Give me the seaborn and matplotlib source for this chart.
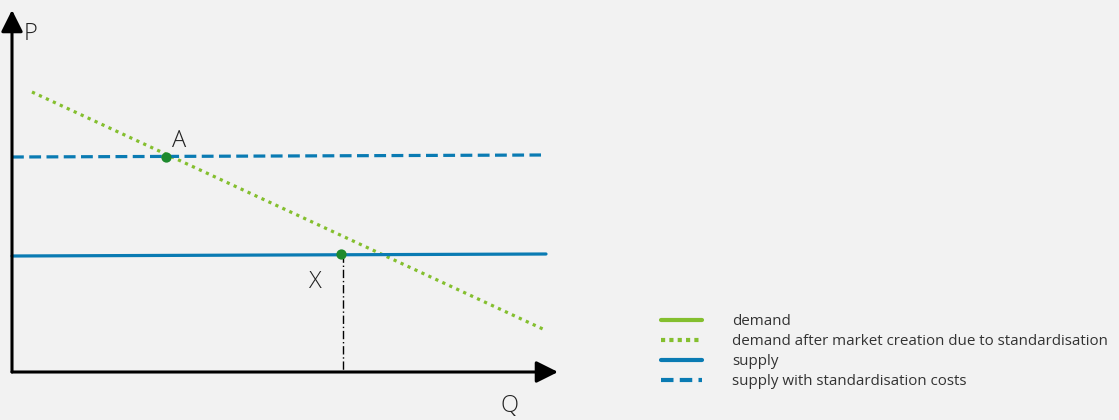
import numpy as np
import pandas as pd
import seaborn as sns
import matplotlib.pyplot as plt
from matplotlib.lines import Line2D

# curve end points (Q, P) in chart units
demand_std_q = [20, 533]
demand_std_p = [280, 42]
supply_std_q = [0, 529]
supply_std_p = [215, 217]
supply_q = [0, 534]
supply_p = [116, 118]
point_a = (154, 215)
point_x = (329, 118)

legend_labels = ["demand",
                 "demand after market creation due to standardisation",
                 "supply",
                 "supply with standardisation costs"]

green = "#84bf2e"
blue = "#0a7bb3"
dot_green = "#1e8a2e"
bg = "#f2f2f2"

sns.set_theme(style="white")
plt.rcParams['font.family'] = ['Open Sans', 'DejaVu Sans']

fig = plt.figure(figsize=(11.19, 4.2), dpi=100, facecolor=bg)
ax = fig.add_axes([0, 0, 1, 1])
ax.set_facecolor(bg)
ax.set_xlim(-12, 1107)
ax.set_ylim(-48, 372)
ax.axis("off")

lw = 2.3
sns.lineplot(x=demand_std_q, y=demand_std_p, ax=ax, color=green, lw=lw,
             linestyle=(0, (1, 1.4)))
sns.lineplot(x=supply_std_q, y=supply_std_p, ax=ax, color=blue, lw=lw,
             linestyle=(0, (3.7, 1.7)))
sns.lineplot(x=supply_q, y=supply_p, ax=ax, color=blue, lw=lw)

# axes with arrows
arrow = dict(arrowstyle="-|>,head_length=1.1,head_width=0.55", color="black", lw=2.2,
             shrinkA=0, shrinkB=0)
ax.annotate("", xy=(0, 362), xytext=(0, 0), arrowprops=arrow)
ax.annotate("", xy=(546, 0), xytext=(0, 0), arrowprops=arrow)

# dash-dot drop line from X
ax.plot([point_x[0] + 2, point_x[0] + 2], [point_x[1], 0], color="black", lw=1,
        linestyle=(0, (6, 2, 1, 2)))

ax.scatter([point_a[0], point_x[0]], [point_a[1], point_x[1]], s=55, color=dot_green,
           zorder=5, linewidths=0)

txt = dict(fontsize=17, color="#222222", fontweight="light")
ax.text(12, 338, "P", ha="left", va="center", **txt)
ax.text(167, 231, "A", ha="center", va="center", **txt)
ax.text(303, 90, "X", ha="center", va="center", **txt)
ax.text(498, -34, "Q", ha="center", va="center", **txt)

handles = [Line2D([], [], color=green, lw=3),
           Line2D([], [], color=green, lw=3, linestyle=(0, (1, 1))),
           Line2D([], [], color=blue, lw=3),
           Line2D([], [], color=blue, lw=3, linestyle=(0, (3, 1.5)))]
leg = ax.legend(handles, legend_labels, loc="upper left", bbox_to_anchor=(0.585, 0.266),
                frameon=False, fontsize=10.9, handlelength=2.75, handletextpad=1.95,
                labelspacing=0.32, borderaxespad=0)
for t in leg.get_texts():
    t.set_color("#333333")

fig.savefig("out.png", dpi=100, facecolor=bg)
